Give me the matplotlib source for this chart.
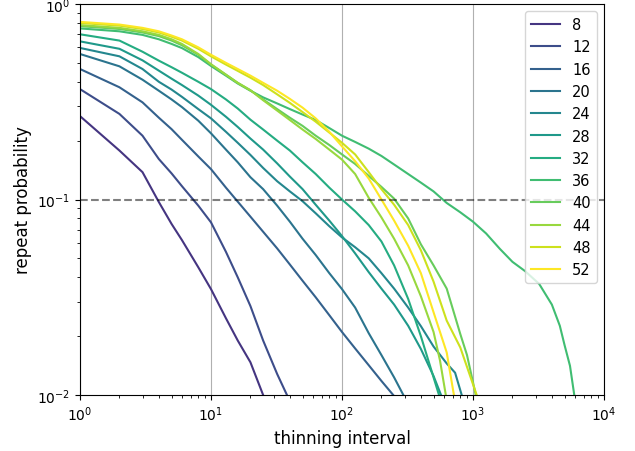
import matplotlib
matplotlib.use("Agg")
import matplotlib.pyplot as plt
from matplotlib import cm

# Chain sizes shown in the legend
sizes = [8, 12, 16, 20, 24, 28, 32, 36, 40, 44, 48, 52]

# Repeat probability measured at a set of thinning intervals, one series per size
x_8 = [1, 2, 3, 4, 5, 6, 8, 10, 13, 16, 20, 25]
y_8 = [0.267, 0.178, 0.138, 0.097, 0.075, 0.062, 0.045, 0.0348, 0.0247, 0.019, 0.0147, 0.0100]

x_12 = [1, 2, 3, 4, 5, 6, 8, 10, 13, 16, 20, 25, 32, 38]
y_12 = [0.367, 0.274, 0.212, 0.161, 0.136, 0.117, 0.093, 0.0764, 0.054, 0.040, 0.0285, 0.019, 0.0128, 0.0100]

x_16 = [1, 2, 3, 4, 5, 6, 8, 10, 13, 16, 20, 25, 32, 40, 50, 63, 80, 100, 126, 160, 200, 246]
y_16 = [0.465, 0.375, 0.314, 0.262, 0.229, 0.202, 0.166, 0.143, 0.115, 0.0975, 0.0817, 0.0684, 0.0562,
        0.0465, 0.0384, 0.0316, 0.0256, 0.021, 0.0173, 0.0142, 0.0118, 0.0100]

x_20 = [1, 2, 3, 4, 5, 6, 8, 10, 13, 16, 20, 25, 32, 40, 50, 63, 80, 100, 126, 160, 200, 250, 294]
y_20 = [0.555, 0.48, 0.41, 0.36, 0.325, 0.297, 0.253, 0.218, 0.18, 0.155, 0.13, 0.113, 0.093, 0.077,
        0.063, 0.052, 0.042, 0.0348, 0.028, 0.0207, 0.016, 0.0123, 0.0100]

x_24 = [1, 2, 3, 4, 5, 6, 8, 10, 13, 16, 20, 25, 32, 40, 50, 63, 80, 100, 126, 160, 200, 250, 320,
        400, 500, 630, 730, 820]
y_24 = [0.596, 0.54, 0.465, 0.40, 0.365, 0.335, 0.29, 0.26, 0.222, 0.195, 0.169, 0.145, 0.124, 0.11,
        0.098, 0.085, 0.073, 0.064, 0.057, 0.050, 0.042, 0.035, 0.028, 0.0225, 0.0177, 0.0145, 0.013, 0.0100]

x_28 = [1, 2, 3, 4, 5, 6, 8, 10, 13, 16, 20, 25, 32, 40, 50, 63, 80, 100, 126, 160, 200, 250, 320,
        400, 500, 570]
y_28 = [0.644, 0.59, 0.515, 0.456, 0.415, 0.385, 0.34, 0.305, 0.265, 0.235, 0.205, 0.18, 0.153, 0.131,
        0.113, 0.094, 0.078, 0.065, 0.053, 0.0425, 0.035, 0.029, 0.0226, 0.0172, 0.0125, 0.0100]

x_32 = [1, 2, 3, 4, 5, 6, 8, 10, 13, 16, 20, 25, 32, 40, 50, 63, 80, 100, 126, 160, 200, 250, 320,
        400, 500, 550]
y_32 = [0.70, 0.65, 0.57, 0.513, 0.475, 0.445, 0.40, 0.367, 0.325, 0.292, 0.256, 0.228, 0.20, 0.178,
        0.155, 0.135, 0.115, 0.100, 0.087, 0.074, 0.061, 0.046, 0.031, 0.020, 0.0123, 0.0100]

x_36 = [1, 2, 3, 4, 5, 6, 8, 10, 13, 16, 20, 25, 32, 40, 50, 63, 80, 100, 126, 160, 200, 250, 320,
        400, 500, 630, 800, 1000, 1260, 1600, 2000, 2500, 3200, 4000, 4600, 5000, 5500, 5930]
y_36 = [0.75, 0.725, 0.695, 0.66, 0.625, 0.595, 0.535, 0.482, 0.43, 0.392, 0.36, 0.333, 0.31, 0.29,
        0.272, 0.255, 0.232, 0.212, 0.197, 0.182, 0.167, 0.151, 0.135, 0.122, 0.110, 0.096, 0.086,
        0.077, 0.067, 0.056, 0.048, 0.043, 0.037, 0.029, 0.0226, 0.018, 0.0141, 0.0100]

x_40 = [1, 2, 3, 4, 5, 6, 8, 10, 13, 16, 20, 25, 32, 40, 50, 63, 80, 100, 126, 160, 200, 250, 320,
        400, 500, 630, 800, 900, 1050]
y_40 = [0.77, 0.745, 0.715, 0.685, 0.65, 0.615, 0.55, 0.49, 0.435, 0.395, 0.362, 0.325, 0.29, 0.262,
        0.238, 0.212, 0.19, 0.17, 0.152, 0.132, 0.116, 0.101, 0.08, 0.059, 0.046, 0.035, 0.0205, 0.016, 0.0100]

x_44 = [1, 2, 3, 4, 5, 6, 8, 10, 13, 16, 20, 25, 32, 40, 50, 63, 80, 100, 126, 160, 200, 250, 320,
        400, 500, 560, 620]
y_44 = [0.78, 0.755, 0.725, 0.695, 0.66, 0.625, 0.555, 0.492, 0.435, 0.395, 0.362, 0.322, 0.285, 0.255,
        0.228, 0.204, 0.18, 0.16, 0.135, 0.102, 0.081, 0.063, 0.046, 0.032, 0.021, 0.015, 0.0100]

x_48 = [1, 2, 3, 4, 5, 6, 8, 10, 13, 16, 20, 25, 32, 40, 50, 63, 80, 100, 126, 160, 200, 250, 320,
        400, 500, 630, 800, 1067]
y_48 = [0.80, 0.775, 0.745, 0.715, 0.68, 0.65, 0.59, 0.54, 0.49, 0.455, 0.42, 0.385, 0.345, 0.312,
        0.28, 0.25, 0.22, 0.195, 0.17, 0.138, 0.113, 0.094, 0.074, 0.055, 0.038, 0.024, 0.0175, 0.0100]

x_52 = [1, 2, 3, 4, 5, 6, 8, 10, 13, 16, 20, 25, 32, 40, 50, 63, 80, 100, 126, 160, 200, 250, 320,
        400, 500, 630, 715]
y_52 = [0.81, 0.785, 0.755, 0.725, 0.69, 0.66, 0.60, 0.55, 0.50, 0.465, 0.43, 0.395, 0.36, 0.327,
        0.295, 0.26, 0.222, 0.187, 0.157, 0.128, 0.100, 0.078, 0.058, 0.042, 0.0265, 0.0165, 0.0100]

series = [(x_8, y_8), (x_12, y_12), (x_16, y_16), (x_20, y_20), (x_24, y_24), (x_28, y_28),
          (x_32, y_32), (x_36, y_36), (x_40, y_40), (x_44, y_44), (x_48, y_48), (x_52, y_52)]

threshold = 0.1

fig = plt.figure(figsize=(6.35, 4.52), dpi=100)
ax = fig.add_axes([80 / 635, 1 - 396 / 452, (604 - 80) / 635, (396 - 5) / 452])

for n, (xs, ys) in zip(sizes, series):
    ax.plot(xs, ys, color=cm.viridis(n / max(sizes)), lw=1.5, label=str(n))

ax.axhline(threshold, color="k", ls="--", lw=1.5, alpha=0.5)

ax.set_xscale("log")
ax.set_yscale("log")
ax.set_xlim(1, 1e4)
ax.set_ylim(1e-2, 1)
ax.grid(axis="x", which="major", color="#b0b0b0", lw=0.8)
ax.set_xlabel("thinning interval", fontsize=12)
ax.set_ylabel("repeat probability", fontsize=12)
ax.legend(loc="upper right", fontsize=10.5)

fig.savefig("out.png", dpi=100)
